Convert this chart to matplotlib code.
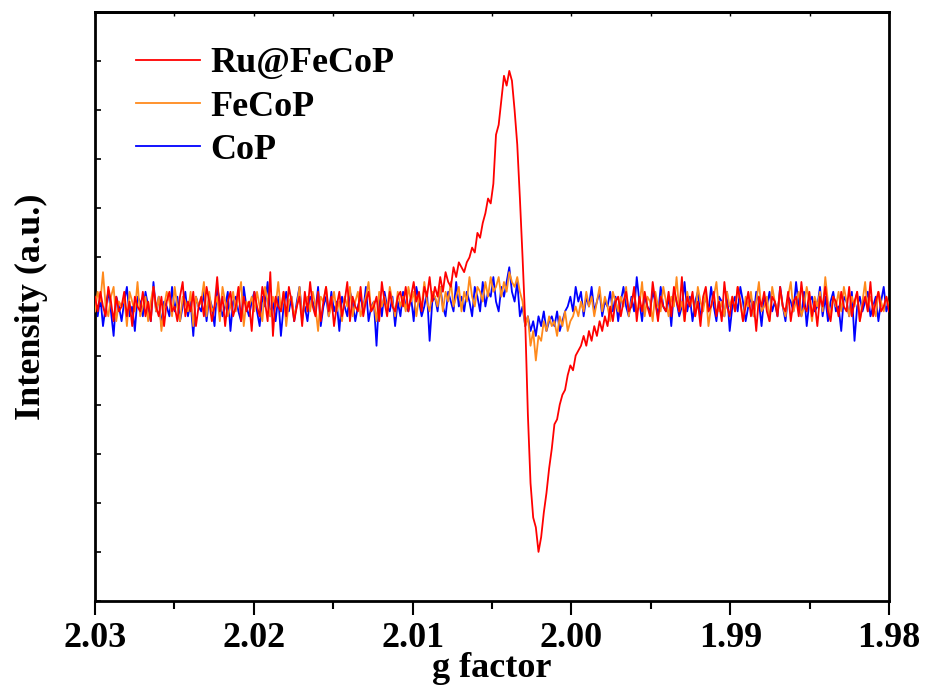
import numpy as np
import matplotlib
matplotlib.use('Agg')
import matplotlib.pyplot as plt
from matplotlib.ticker import MultipleLocator, NullFormatter

plt.rcParams['font.family'] = ['Liberation Serif', 'DejaVu Serif']
plt.rcParams['font.weight'] = 'bold'

# campo varrido em g (de 2.03 ate 1.98), 300 pontos
g_inicio, g_fim, n_pontos = 2.03, 1.98, 300
g = np.linspace(g_inicio, g_fim, n_pontos)

# sinais EPR (unidades arbitrarias)
ru_fecop = [
    2, -1, 3, 0, -2, 4, 1, -3, 2, -1, 0, 3, -2, 1, -4, 2, 0, -1, 3, -2,
    1, -3, 4, 0, -2, 2, -4, 1, 3, -1, 0, -3, 2, 5, -2, 1, -1, 3, -4, 0,
    2, -2, 4, 1, -3, 0, 6, -1, 2, -4, 1, 3, -2, 0, 4, -3, 2, -1, 1, -5,
    3, 0, -2, 4, 1, -3, 7, -6, 2, 0, -1, 3, -2, 4, 1, -3, 0, 2, -4, 3,
    -1, 5, 0, -2, 3, -3, 1, 4, -1, 2, -4, 0, 3, -2, 1, 5, -3, 2, 0, -1,
    4, -2, 1, 3, -1, 0, 2, -3, 5, 1, -2, 3, 0, -1, 2,
    3, 0, 4, -1, 2, 5, 1, 3, -1, 4, 2, 6, 1,
    4, 2, 6, 3, 7, 5, 4, 8, 6, 9, 8, 7, 9,
    10, 12, 11, 15, 14, 17, 19, 22, 21, 25,
    35, 37, 42, 47, 45, 48, 46, 40, 33, 22,
    10, -3, -22, -36, -43, -45, -50, -47, -42, -38,
    -33, -29, -24, -23, -20, -18, -17, -14, -12, -13,
    -10, -9, -8, -6, -8, -5, -7, -4, -6, -3,
    -5, -2, -4, 0, -3, 1,
    2, -2, 1, 3, -1, 0, 4, -3, 2, -1, 3, 0, -2, 5, 1, -3, 2, 0, -1, 3,
    -2, 4, 1, -1, 6, -3, 2, 0, 3, -2, 1, -4, 2, 4, -1, 0, 3, -2, 1, -3,
    5, 0, -2, 2, -1, 4, 1, -3, 0, 3, -2, 1, -5, 2, 0, 3, -1, -3, 2, 1,
    -2, 4, 0, -1, 3, -3, 1, 2, -2, 5, 0, -1, 3, -2, 1, -4, 2, 0, 4, -1,
    -3, 2, 1, -2, 3, 0, -1, 4, -2, 1, 3, -3, 0, 2, -1, 5, -2, 1, 3, -1, 0, 2, -1,
]

fecop = [
    -1, 3, 1, 7, 0, -2, 2, 4, -3, 1, 0, 2, -4, 3, 1, -1, 5, -2, 0, 2,
    -3, 1, 4, -1, 2, -5, 0, 3, 1, -2, 4, 0, -3, 2, 1, -1, 3, -4, 2, 0,
    1, 5, -2, 3, -1, 0, 2, -3, 4, 1, -2, 0, 3, -1, 2, 5, -4, 1, 0, 2,
    -1, 3, 0, -3, 4, 1, -2, 2, 0, 5, -1, 3, -4, 1, 2, -2, 0, 4, -3, 1,
    2, -1, 3, 0, -5, 2, 1, 4, -2, 0, 3, -1, 1, -3, 2, 0, 4, -2, 1, 3,
    -2, 0, 2, 5, -1, 1, -3, 3, 0, 2, -1, 4, 1, -2, 3,
    0, 2, -1, 4, 1, 3, -2, 2, 0, 5, 1, -1, 3, 2, 0, 4, -1, 3, 1, 5,
    0, 2, 4, -1, 3, 1, 6, 2, 0, 4, 3, 1, 5, 2, 6, 3,
    4, 6, 2, 5, 3, 7, 5, 4, 6, 3,
    1, -4, -2, -8, -5, -11, -6, -7, -3, -5,
    -2, -4, -3, -6, -2, -4, -1, -5, -3, -2,
    0, -2, 1, -1, 3, 0, 2, -2, 1, 4, -1, 2, 0, -3, 3, 1, -1, 2, 0, 4,
    -2, 1, 3, -1, 0, 5, -2, 2, 1, -3, 3, 0, -1, 4, 1, -2, 2, 0, 6, -1,
    1, -3, 3, 0, 2, -2, 4, 1, -1, 3, -4, 0, 2, 5, -1, 1, -2, 3, 0, 2,
    -1, 4, 1, -3, 2, 0, 3, -2, 1, 5, -1, 0, 2, -3, 4, 1, -1, 3, 0, -2,
    2, 5, -1, 1, 3, -2, 0, 4, 1, -3, 2, 0, 3, -1, 6, 1, -2, 2, 0, 3,
    -1, 4, 1, -2, 2, 0, 3, -3, 1, 5, -1, 2, 0, -2, 3, 1, -1, 2, 0,
]

cop = [
    1, -2, 2, -4, 0, 3, -1, -6, 2, 0, -3, 1, 4, -2, 0, -5, 2, 1, -2, 3,
    0, -3, 5, -1, 2, -4, 1, 0, -2, 4, -1, 2, -3, 0, 3, -2, 1, -6, 2, 0,
    -1, 3, -3, 2, 0, -4, 4, 1, -2, 0, 3, -5, 1, 2, -1, -3, 4, 0, -2, 1,
    3, -1, -4, 2, 0, 5, -2, 1, -3, 2, -6, 0, 3, -1, 2, -3, 1, 4, -2, 0,
    -3, 2, 1, -1, 4, -4, 0, 2, -2, 3, -1, 1, -5, 2, 0, -2, 3, 1, -3, 0,
    2, -1, 4, -3, 0, 1, -8, 2, -2, 3, 0, -1, 2, -4, 1,
    -2, 3, 0, -1, 2, -3, 4, 1, -2, 0, 3, -7, 1, 2, -1, 4, 0, -2, 3, 1,
    -1, 5, 0, 2, -1,
    3, 1, -2, 4, 2, -1, 5, 0, 3, 2, 6, 1, -1, 4, 2, 5, 8, 3, 1, 5, -2,
    0, -4, -2, -5, -3, -6, -2, -4, -1, -5, -3, -2, -4, -1, -5, -3, -1, 0,
    2, -1, 4, 1, 3, -2, 2, 0, 4, -1, 1, 3,
    -2, 1, 0, 3, -1, 2, -3, 1, 4, 0, -2, 2, -1, 6, 1, -3, 2, 0, -1, 3,
    1, -2, 4, 0, -1, 2, -4, 3, 1, -2, 0, 5, -1, 2, -3, 1, 3, -2, 0, 2,
    -1, 4, 0, -3, 2, 1, -2, 3, -5, 0, 2, -1, 4, 1, -3, 0, 2, -2, 3, 1,
    -4, 2, 0, 3, -1, 1, -2, 4, 0, -3, 2, 1, -1, 5, 0, -2, 3, -4, 1, 2,
    -1, 0, 4, -2, 2, -3, 1, 3, -1, 0, -5, 2, 1, -2, 3, -7, 0, 2, -1, 1,
    3, -2, 0, 2, -3, 1, 4, -1, 1,
]

nomes = ['Ru@FeCoP', 'FeCoP', 'CoP']
cores = ['#FF0000', '#FF8A1C', '#0000FF']

fig = plt.figure(figsize=(9.28, 6.98), dpi=100)
ax = fig.add_axes([0.1024, 0.139, 0.8556, 0.8438])

# azul por baixo, vermelho por cima
l_cop, = ax.plot(g, cop, color=cores[2], lw=1.3, zorder=2)
l_fecop, = ax.plot(g, fecop, color=cores[1], lw=1.3, zorder=3)
l_ru, = ax.plot(g, ru_fecop, color=cores[0], lw=1.3, zorder=4)

ax.set_xlim(2.03, 1.98)
ax.set_ylim(-60, 60)

ax.xaxis.set_major_locator(MultipleLocator(0.01))
ax.xaxis.set_minor_locator(MultipleLocator(0.005))
ax.yaxis.set_major_locator(MultipleLocator(10))
ax.yaxis.set_major_formatter(NullFormatter())
ax.set_xticks([2.03, 2.02, 2.01, 2.00, 1.99, 1.98])
ax.set_xticklabels(['2.03', '2.02', '2.01', '2.00', '1.99', '1.98'])

ax.tick_params(axis='x', which='major', direction='out', length=10, width=1.5,
               labelsize=26, pad=5, top=False)
ax.tick_params(axis='x', which='minor', direction='out', length=6, width=1.5, top=False)
ax.tick_params(axis='y', which='major', direction='in', length=4, width=1.2)

# marcas internas no eixo de cima
ax_top = ax.secondary_xaxis('top')
ax_top.xaxis.set_major_locator(MultipleLocator(0.01))
ax_top.xaxis.set_minor_locator(MultipleLocator(0.005))
ax_top.tick_params(which='both', direction='in', length=3, width=1.0, labelsize=0)
ax_top.xaxis.set_major_formatter(NullFormatter())
ax_top.spines['top'].set_linewidth(2)

for lado in ax.spines.values():
    lado.set_linewidth(2)

for rot in ax.get_xticklabels():
    rot.set_fontweight('bold')

ax.set_xlabel('g factor', fontsize=26, fontweight='bold', labelpad=-2)
ax.set_ylabel('Intensity (a.u.)', fontsize=26, fontweight='bold', labelpad=30)

ax.legend([l_ru, l_fecop, l_cop], nomes, loc='upper left', bbox_to_anchor=(0.034, 0.965),
          frameon=False, handlelength=1.75, handletextpad=0.3, labelspacing=0.28,
          borderaxespad=0, prop={'size': 26, 'weight': 'bold'})

fig.savefig('out.png', dpi=100)
